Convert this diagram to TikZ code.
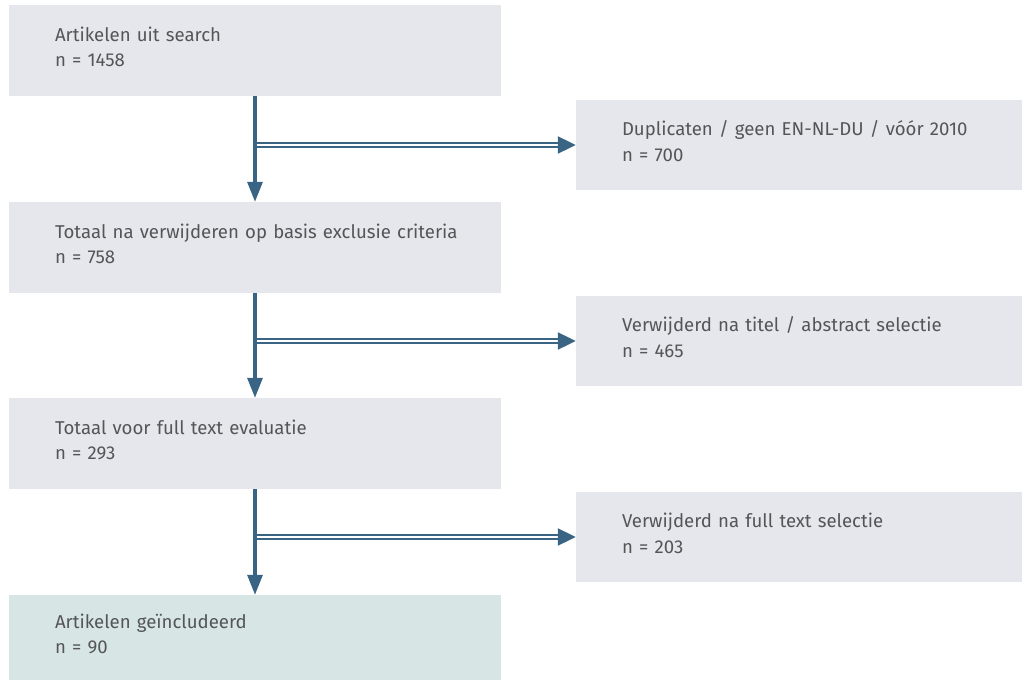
\documentclass[tikz,border=0pt]{standalone}
\usepackage{fontspec}
\setmainfont[WordSpace=0.75]{Fira Sans}
\usetikzlibrary{arrows.meta}
\definecolor{boxgrey}{HTML}{E6E7EC}
\definecolor{boxgreen}{HTML}{D7E5E5}
\definecolor{arrowblue}{HTML}{3A6484}
\definecolor{txt}{HTML}{545557}
\begin{document}
\begin{tikzpicture}[x=1pt,y=-1pt,
  box/.style={fill=boxgrey, draw=none, minimum height=91pt, inner xsep=0pt, inner ysep=0pt,
    align=left, font=\fontsize{18.6}{25.5}\selectfont, text=txt, anchor=center,
    execute at end node={\rule[-8pt]{0pt}{8pt}}},
  leftbox/.style={box, minimum width=492pt, text width=400pt},
  rightbox/.style={box, minimum width=446pt, text width=354pt, minimum height=90pt},
  vflow/.style={arrowblue, line width=3.2pt, -{Triangle[length=20pt,width=15pt]}},
  hflow/.style={arrowblue, double=white, double distance=1.8pt, line width=2.1pt, -{Triangle[length=18pt,width=17pt]}}]
\useasboundingbox (0,0) rectangle (1022,680);
\node[leftbox] (b1) at (255,50.5) {Artikelen uit search\\n = 1458};
\node[leftbox] (b2) at (255,247.5) {\mbox{Totaal na verwijderen op basis exclusie criteria}\\n = 758};
\node[leftbox] (b3) at (255,443.5) {Totaal voor full text evaluatie\\n = 293};
\node[leftbox, fill=boxgreen, minimum height=85pt] (b4) at (255,637.5) {Artikelen geïncludeerd\\n = 90};
\node[rightbox] (r1) at (799,145) {Duplicaten / geen EN-NL-DU / vóór 2010\\n = 700};
\node[rightbox] (r2) at (799,341) {Verwijderd na titel / abstract selectie\\n = 465};
\node[rightbox] (r3) at (799,537) {Verwijderd na full text selectie\\n = 203};
\draw[vflow] (b1.south) -- (b2.north);
\draw[vflow] (b2.south) -- (b3.north);
\draw[vflow] (b3.south) -- (b4.north);
\draw[hflow] ([xshift=1.5pt]b1.south |- r1.west) -- (r1.west);
\draw[hflow] ([xshift=1.5pt]b2.south |- r2.west) -- (r2.west);
\draw[hflow] ([xshift=1.5pt]b3.south |- r3.west) -- (r3.west);
\end{tikzpicture}
\end{document}
